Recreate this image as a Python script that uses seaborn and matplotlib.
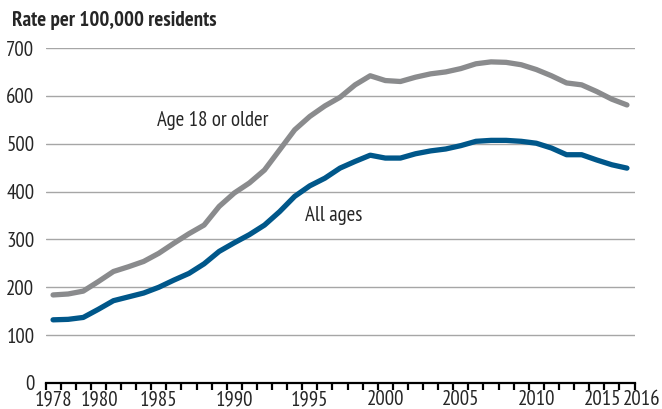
import matplotlib
matplotlib.use("Agg")
import matplotlib.pyplot as plt
import matplotlib.transforms as mtransforms
import seaborn as sns
import pandas as pd

years = list(range(1978, 2017))
adult = [184, 186, 192, 212, 233, 243, 254, 271, 292, 312,
         330, 369, 397, 418, 445, 487, 529, 557, 579, 597,
         623, 642, 632, 630, 639, 646, 650, 657, 667, 671,
         670, 665, 655, 642, 627, 623, 609, 593, 581]
all_ages = [132, 133, 137, 154, 172, 180, 188, 200, 215, 229,
            249, 275, 293, 310, 330, 358, 390, 412, 428, 449,
            463, 476, 470, 470, 479, 485, 489, 496, 505, 507,
            507, 505, 501, 491, 477, 477, 466, 456, 449]
tick_years = [1978, 1980, 1985, 1990, 1995, 2000, 2005, 2010, 2015, 2016]
y_ticks = [0, 100, 200, 300, 400, 500, 600, 700]

sns.set_style("white")
plt.rcParams["font.family"] = ["PT Sans Narrow", "DejaVu Sans"]
fs = 15

df = pd.DataFrame({"year": years, "adult": adult, "all": all_ages})

fig = plt.figure(figsize=(6.62, 4.09), dpi=100)
ax = fig.add_axes([45.5 / 662, 26 / 409, 589 / 662, 335 / 409])

for v in y_ticks[1:]:
    ax.axhline(v, color="#a6a6a6", lw=1.0, zorder=0)

sns.lineplot(data=df, x="year", y="adult", ax=ax, color="#8a8b8d", lw=3.8,
             solid_capstyle="round", solid_joinstyle="round")
sns.lineplot(data=df, x="year", y="all", ax=ax, color="#00578a", lw=3.8,
             solid_capstyle="round", solid_joinstyle="round")

ax.set_xlim(1977.5, 2016.5)
ax.set_ylim(0, 700)
ax.set_xlabel("")
ax.set_ylabel("")
for s in ["top", "right", "left"]:
    ax.spines[s].set_visible(False)
ax.spines["bottom"].set_color("black")
ax.spines["bottom"].set_linewidth(1.6)

ax.set_yticks(y_ticks)
ax.set_yticklabels([str(v) for v in y_ticks], fontsize=fs)
ax.tick_params(axis="y", length=0, pad=8)

ax.set_xticks(tick_years)
ax.set_xticklabels([str(y) for y in tick_years], fontsize=fs)
ax.set_xticks([y - 0.5 for y in years] + [2016.5], minor=True)
ax.tick_params(axis="x", which="major", length=0, pad=5)
ax.tick_params(axis="x", which="minor", length=5, width=1.6, color="black",
               direction="out", bottom=True)

shifts = {"1980": 16, "2015": -9, "2016": 15}
for lab in ax.get_xticklabels():
    dx = shifts.get(lab.get_text(), 0)
    if dx:
        lab.set_transform(lab.get_transform() +
                          mtransforms.ScaledTranslation(dx / 100, 0, fig.dpi_scale_trans))

ax.text(1988.6, 549, "Age 18 or older", fontsize=fs, ha="center", va="center")
ax.text(1996.6, 350, "All ages", fontsize=fs, ha="center", va="center")

fig.text(12 / 662, 1 - 20 / 409, "Rate per 100,000 residents", fontsize=fs,
         fontweight="bold", ha="left", va="center")

fig.savefig("out.png", dpi=100)
